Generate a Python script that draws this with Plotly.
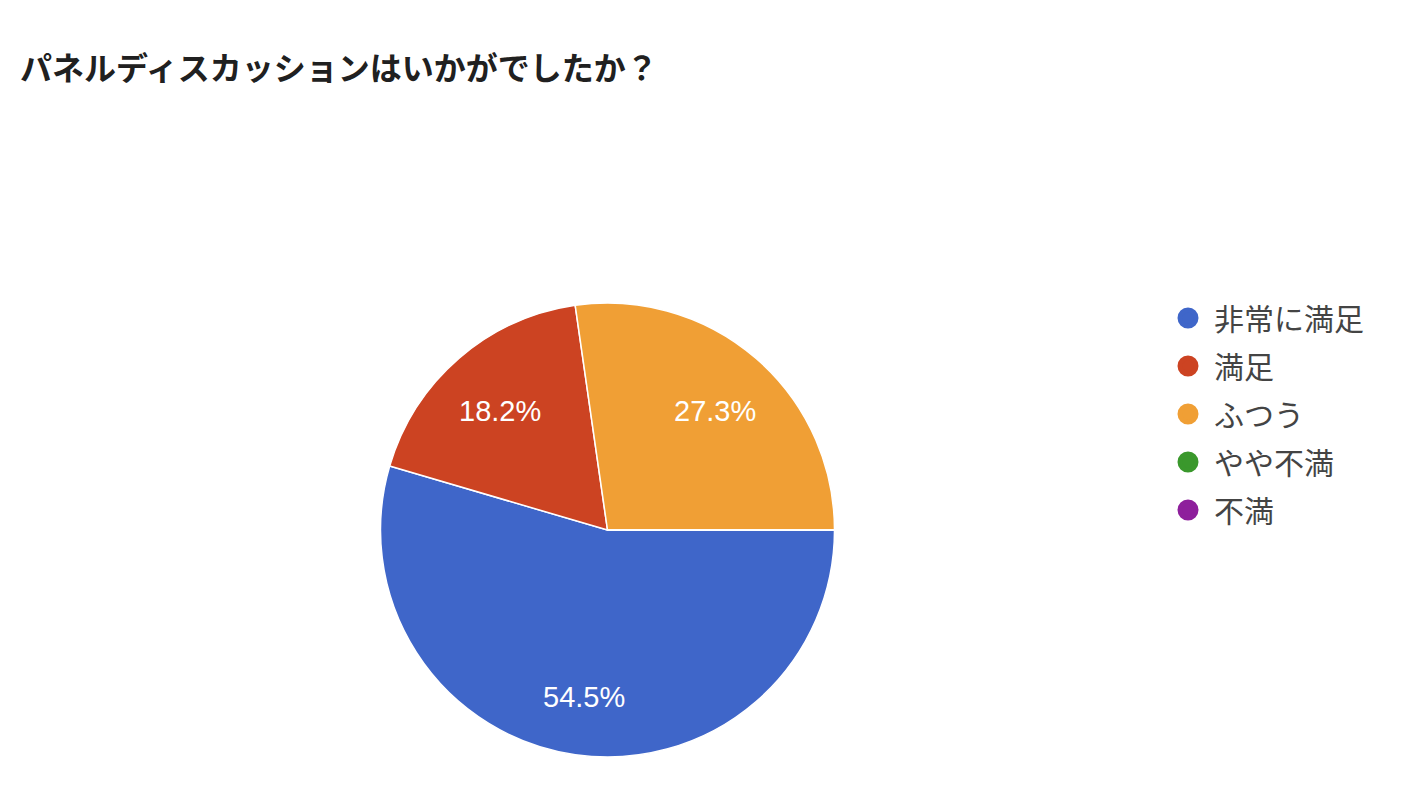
import math
import plotly.graph_objects as go

# survey answers (11 responses)
labels = ["非常に満足", "満足", "ふつう", "やや不満", "不満"]
counts = [6, 2, 3, 0, 0]
colors = ["#3f66c9", "#cc4322", "#f09f35", "#3a982c", "#8e1f9c"]
title = "パネルディスカッションはいかがでしたか？"

W, H = 1424, 796
# pie box in px (page has 8px body margin, already taken off)
px_left, px_right, px_top, px_bottom = 372, 827, 295, 749
dom_x = [px_left / W, px_right / W]
dom_y = [1 - px_bottom / H, 1 - px_top / H]

fig = go.Figure()

fig.add_trace(go.Pie(
    labels=labels,
    values=counts,
    sort=False,
    direction="clockwise",
    rotation=90,
    marker=dict(colors=colors, line=dict(color="white", width=1.5)),
    textinfo="none",
    domain=dict(x=dom_x, y=dom_y),
    showlegend=False,
    hoverinfo="label+percent",
))

# percent labels placed along each slice's mid angle, like google forms
total = sum(counts)
cx = (px_left + px_right) / 2
cy = (px_top + px_bottom) / 2
r = min(px_right - px_left, px_bottom - px_top) / 2
start = 90.0
for c in counts:
    if c == 0:
        continue
    sweep = 360.0 * c / total
    mid = math.radians(start + sweep / 2)
    start += sweep
    lx = cx + 0.72 * r * math.sin(mid)
    ly = cy - 0.72 * r * math.cos(mid)
    fig.add_annotation(
        x=lx / W, y=1 - ly / H, xref="paper", yref="paper",
        text=f"{100 * c / total:.1f}%", showarrow=False,
        xanchor="center", yanchor="middle", yshift=-5,
        font=dict(family="Liberation Sans, Arial", size=29, color="white"),
    )

# circle legend entries
for lab, col in zip(labels, colors):
    fig.add_trace(go.Scatter(
        x=[None], y=[None], mode="markers", name=lab, legendgroup=lab,
        marker=dict(symbol="circle", size=16, color=col, line=dict(color=col, width=5)),
    ))

fig.update_layout(
    width=W, height=H,
    margin=dict(l=0, r=0, t=0, b=0),
    paper_bgcolor="white",
    plot_bgcolor="white",
    title=dict(
        text="<b>" + title + "</b>",
        x=12 / W, xanchor="left",
        y=1 - 61 / H, yanchor="middle",
        font=dict(family="Noto Sans CJK JP", size=32, color="#202020"),
    ),
    xaxis=dict(visible=False),
    yaxis=dict(visible=False),
    legend=dict(
        x=1154 / W, xanchor="left",
        y=1 - 284 / H, yanchor="top",
        font=dict(family="Noto Sans CJK JP", size=30, color="#444444"),
        itemsizing="trace",
        itemwidth=42,
        tracegroupgap=6,
        bgcolor="rgba(0,0,0,0)",
    ),
    font=dict(family="Noto Sans CJK JP"),
)

fig.write_html("out.html")
